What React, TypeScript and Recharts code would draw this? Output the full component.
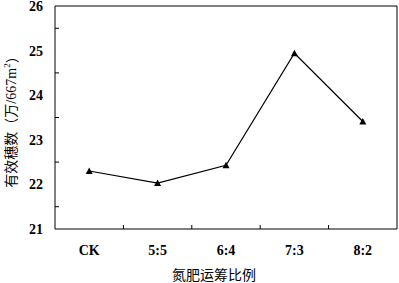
import React from "react";
import { LineChart, Line, XAxis, YAxis } from "recharts";

const categories = ["CK", "5:5", "6:4", "7:3", "8:2"];
const spikeCounts = [22.3, 22.03, 22.43, 24.94, 23.41];
const yTicks = [21, 21.5, 22, 22.5, 23, 23.5, 24, 24.5, 25, 25.5, 26];

const data = categories.map((name, i) => ({ name, value: spikeCounts[i] }));

const W = 399;
const H = 283;
const M = { top: 5, right: 1, bottom: 0, left: 0 };
const Y_W = 55;
const X_H = 54;
const halfBand = (W - M.left - M.right - 1 - Y_W) / categories.length / 2;
const FONT = "'Liberation Serif', 'Noto Sans CJK SC', serif";

const YTick = (props: any) => {
  const { x, y, payload } = props;
  const v = payload.value;
  if (Number.isInteger(v)) {
    return (
      <text x={x - 12} y={y} dy={5} textAnchor="end" fontFamily={FONT} fontWeight="bold" fontSize={14} fill="#000">
        {v}
      </text>
    );
  }
  return <line x1={x} x2={x + 4} y1={y} y2={y} stroke="#000" strokeWidth={1} />;
};

const XTick = (props: any) => {
  const { x, y, payload, index } = props;
  return (
    <g>
      <text x={x} y={y + 26} textAnchor="middle" fontFamily={FONT} fontWeight="bold" fontSize={14} fill="#000">
        {payload.value}
      </text>
      {index < categories.length - 1 && (
        <line x1={x + halfBand} x2={x + halfBand} y1={y} y2={y - 4} stroke="#000" strokeWidth={1} />
      )}
    </g>
  );
};

const YTitle = (props: any) => {
  const { viewBox } = props;
  const cx = viewBox.x + 11.5;
  const cy = viewBox.y + viewBox.height / 2 + 1;
  return (
    <text
      x={cx}
      y={cy}
      textAnchor="middle"
      dominantBaseline="central"
      transform={`rotate(-90 ${cx} ${cy})`}
      fontFamily={FONT}
      fontSize={14}
      fill="#000"
    >
      有效穗数（万/667m<tspan dy={-5} fontSize={9}>2</tspan>
      <tspan dy={5}>）</tspan>
    </text>
  );
};

const Triangle = (props: any) => {
  const { cx, cy } = props;
  if (cx == null || cy == null) return null;
  return <path d={`M${cx - 3.5},${cy + 3} L${cx + 3.5},${cy + 3} L${cx},${cy - 3.5} Z`} fill="#000" />;
};

export default function App() {
  return (
    <div style={{ position: "absolute", left: 0, top: 0, width: W, height: H, background: "#fff" }}>
      <LineChart width={W} height={H} data={data} margin={M}>
        <XAxis
          dataKey="name"
          height={X_H}
          stroke="#000"
          padding={{ left: halfBand, right: halfBand }}
          tickLine={false}
          tickSize={0}
          tickMargin={0}
          interval={0}
          tick={<XTick />}
          label={{
            value: "氮肥运筹比例",
            position: "insideBottom",
            offset: 3,
            dx: -12,
            fontFamily: FONT,
            fontSize: 14,
            fill: "#000",
          }}
        />
        <XAxis
          xAxisId="top"
          dataKey="name"
          orientation="top"
          height={1}
          padding={{ left: halfBand, right: halfBand }}
          tick={false}
          tickLine={false}
          axisLine={{ stroke: "#000" }}
        />
        <YAxis
          domain={[21, 26]}
          ticks={yTicks}
          interval={0}
          width={Y_W}
          stroke="#000"
          tickLine={false}
          tickSize={0}
          tickMargin={0}
          tick={<YTick />}
          label={YTitle}
        />
        <YAxis
          yAxisId="right"
          orientation="right"
          domain={[21, 26]}
          width={1}
          tick={false}
          tickLine={false}
          axisLine={{ stroke: "#000" }}
        />
        <Line
          xAxisId="top"
          yAxisId="right"
          dataKey="value"
          stroke="none"
          dot={false}
          activeDot={false}
          isAnimationActive={false}
        />
        <Line
          dataKey="value"
          stroke="#000"
          strokeWidth={1.2}
          dot={<Triangle />}
          activeDot={false}
          isAnimationActive={false}
        />
      </LineChart>
    </div>
  );
}
